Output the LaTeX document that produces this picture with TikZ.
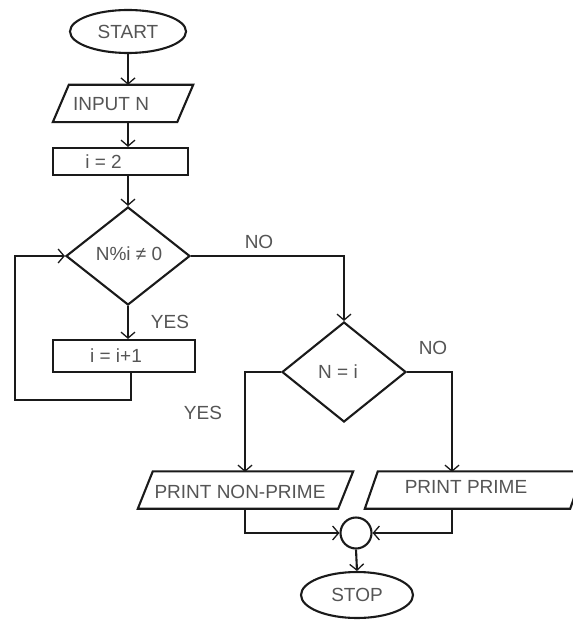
\documentclass[tikz,border=0pt]{standalone}
\usepackage{fontspec}
\setmainfont{Liberation Sans}
\usetikzlibrary{arrows.meta,shapes.geometric}
\definecolor{ink}{HTML}{1A1A1A}
\definecolor{txt}{HTML}{555555}
\begin{document}
\begin{tikzpicture}[x=1pt,y=-1pt,
  line/.style={draw=ink,line width=2.1pt},
  arr/.style={line,-{Straight Barb[length=6pt,width=14pt,line width=1.3pt]}},
  every node/.style={font=\fontsize{19}{21}\selectfont,text=txt,inner sep=0pt},
  term/.style={ellipse,line},
  procbox/.style={rectangle,line},
  decide/.style={diamond,line},
  iobox/.style={rectangle,draw=none},
  lbl/.style={text=txt}
]
\useasboundingbox (0,0) rectangle (572,620);
\fill[white] (0,0) rectangle (572,620);

% nodes
\node[term,minimum width=116pt,minimum height=43pt] (start) at (128,31.5) {START};
\node[iobox,minimum width=140pt,minimum height=37pt] (in) at (123,103.5) {};
\node[lbl] (intxt) at (111,104) {INPUT N};
\node[procbox,minimum width=135pt,minimum height=27pt,
      label={[text=txt,xshift=-17pt]center:{i = 2}}] (i2) at (120.5,161.5) {};
\node[decide,minimum width=124pt,minimum height=98pt,aspect=1.27] (d1) at (128,256) {};
\node[lbl] (d1txt) at (129,254) {N\%i ≠ 0};
\node[procbox,minimum width=142pt,minimum height=32pt,
      label={[text=txt,xshift=-8pt]center:{i = i+1}}] (inc) at (124,356) {};
\node[decide,minimum width=124pt,minimum height=100pt,aspect=1.24] (d2) at (344,372) {};
\node[lbl] (d2txt) at (338,372) {N = i};
\node[iobox,minimum width=215pt,minimum height=37pt] (pnp) at (245.5,490) {};
\node[lbl] (pnptxt) at (240,492) {PRINT NON-PRIME};
\node[iobox,minimum width=218pt,minimum height=37pt] (pp) at (474,490) {};
\node[lbl] (pptxt) at (466,487) {PRINT PRIME};
\node[circle,line,minimum size=31pt] (j) at (356,533) {};
\node[term,minimum width=112pt,minimum height=46pt] (stop) at (357,595) {STOP};

% parallelogram outlines
\draw[line] ([xshift=16pt]in.north west) -- (in.north east) -- ([xshift=-16pt]in.south east) -- (in.south west) -- cycle;
\draw[line] ([xshift=15pt]pnp.north west) -- (pnp.north east) -- ([xshift=-15pt]pnp.south east) -- (pnp.south west) -- cycle;
\draw[line] ([xshift=13pt]pp.north west) -- (pp.north east) -- ([xshift=-13pt]pp.south east) -- (pp.south west) -- cycle;

% connectors
\draw[arr] (start.south) -- (start.south |- in.north);
\draw[arr] (start.south |- in.south) -- (start.south |- i2.north);
\draw[arr] (start.south |- i2.south) -- (d1.north);
\draw[arr] (d1.south) -- (d1.south |- inc.north);
\coordinate (lb) at (15,400);
\draw[arr] ([xshift=7pt]inc.south) |- (lb) |- (d1.west);
\draw[arr] (d1.east) -| (d2.north);
\coordinate (pnpin) at (245,472);
\coordinate (ppin) at (452,472);
\draw[arr] (d2.west) -| (pnpin);
\draw[arr] (d2.east) -| (ppin);
\draw[arr] (pnpin |- pnp.south) |- (j.west);
\draw[arr] (ppin |- pp.south) |- (j.east);
\draw[arr] (j.south) -- (stop.north);

% labels
\node[lbl] (no1) at (259,242) {NO};
\node[lbl] (yes1) at (170,322) {YES};
\node[lbl] (no2) at (433,348) {NO};
\node[lbl] (yes2) at (203,413) {YES};
\end{tikzpicture}
\end{document}
